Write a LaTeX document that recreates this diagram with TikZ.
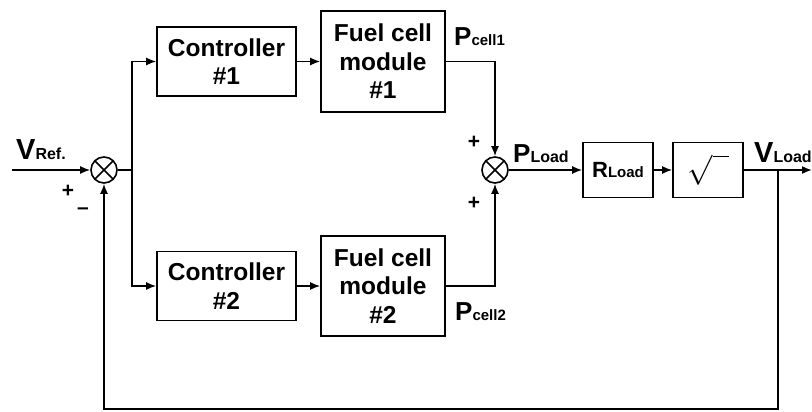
\documentclass[tikz,border=0pt]{standalone}
\usepackage{fontspec}
\usepackage{graphicx}
\setmainfont{Liberation Sans}
\usetikzlibrary{arrows.meta}

\begin{document}
\begin{tikzpicture}[
    x=1pt, y=-1pt,
    block/.style={rectangle, draw, line width=1.6pt, minimum width=139pt, minimum height=69pt, inner sep=0pt, align=center, font=\bfseries\fontsize{24.5}{28.5}\selectfont},
    module/.style={block, minimum width=124pt, minimum height=101pt},
    small/.style={block, minimum width=70pt, minimum height=55pt},
    sum/.style={circle, draw, line width=1.6pt, minimum size=26pt, inner sep=0pt,
        path picture={\draw[line width=1.6pt] (path picture bounding box.center) +(45:14pt) -- +(225:14pt) +(135:14pt) -- +(-45:14pt);}},
    arrow/.style={-{Latex[length=10pt,width=8pt]}, line width=1.6pt},
    line/.style={line width=1.6pt},
    sign/.style={font=\bfseries\fontsize{21}{21}\selectfont, inner sep=0pt},
    lbl/.style={anchor=base west, inner sep=0pt, font=\bfseries}
]
    \useasboundingbox (0,0) rectangle (812,412);

    \node[sum] (sum1) at (104,170) {};
    \node[block] (ctrl1) at (226.5,61.5) {Controller\\\#1};
    \node[block] (ctrl2) at (226.5,286) {Controller\\\#2};
    \node[module] (fc1) at (383,61.5) {Fuel cell\\module\\\#1};
    \node[module, minimum height=100pt] (fc2) at (383,286) {Fuel cell\\module\\\#2};
    \node[sum] (sum2) at (495,170) {};
    \node[small] (rload) at (618,170) {{\fontsize{22}{22}\selectfont R}{\fontsize{15}{15}\selectfont Load}};
    \node[small] (sqrtb) at (708,170) {\scalebox{1.45}{\fontsize{20}{20}\selectfont$\sqrt{\vphantom{X}\hspace{11pt}}$}};

    \coordinate (vin) at (12,170);
    \coordinate (br) at (132,170);
    \coordinate (tap) at (778,170);
    \coordinate (vout) at (812,170);
    \coordinate (fb) at (778,409);

    % labels
    \node[lbl] (vref) at (16,159) {{\fontsize{29}{29}\selectfont V}{\fontsize{16}{16}\selectfont Ref.}};
    \node[lbl] (pc1) at (454,46) {{\fontsize{26}{26}\selectfont P}{\fontsize{15}{15}\selectfont cell1}};
    \node[lbl] (pc2) at (455,320) {{\fontsize{26}{26}\selectfont P}{\fontsize{15}{15}\selectfont cell2}};
    \node[lbl] (pload) at (513,162) {{\fontsize{26}{26}\selectfont P}{\fontsize{16}{16}\selectfont Load}};
    \node[lbl] (vload) at (754,162) {{\fontsize{29}{29}\selectfont V}{\fontsize{16}{16}\selectfont Load}};

    \node[sign] (p1) at (68,191) {+};
    \node[sign] (m1) at (83,211) {–};
    \node[sign] (p2) at (474,142) {+};
    \node[sign] (p3) at (474,203) {+};

    \draw[arrow] (vin) -- (sum1);
    \draw[line] (sum1) -- (br);
    \draw[arrow] (br) |- (ctrl1);
    \draw[arrow] (br) |- (ctrl2);
    \draw[arrow] (ctrl1) -- (fc1);
    \draw[arrow] (ctrl2) -- (fc2);
    \draw[arrow] (fc1.east) -| (sum2);
    \draw[arrow] (fc2.east) -| (sum2);
    \draw[arrow] (sum2) -- (rload);
    \draw[arrow] (rload) -- (sqrtb);
    \draw[arrow] (sqrtb) -- (vout);
    \draw[arrow] (tap) -- (fb) -| (sum1);
\end{tikzpicture}
\end{document}
